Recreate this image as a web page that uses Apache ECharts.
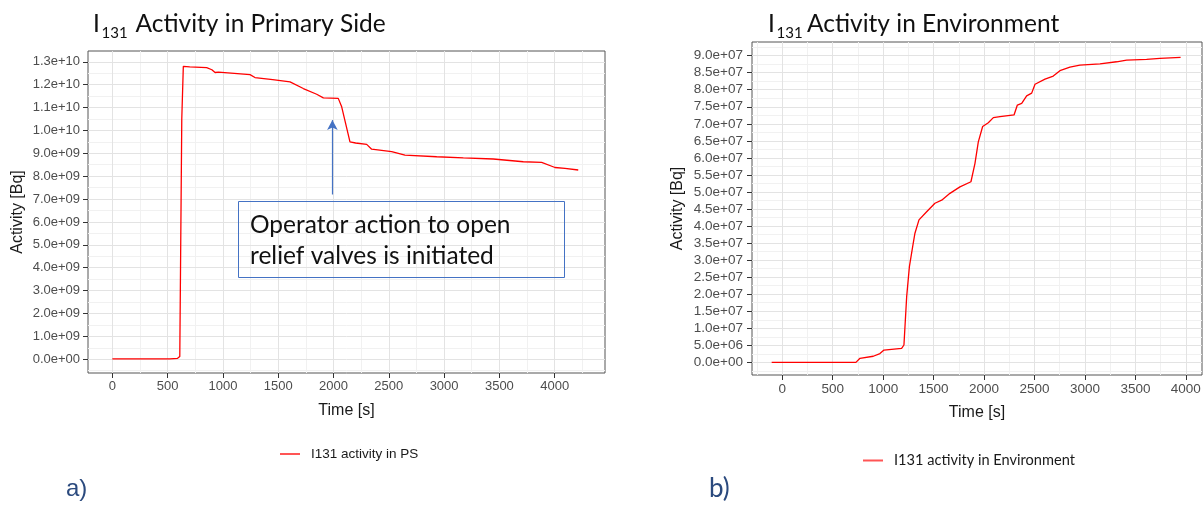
<!DOCTYPE html>
<html>
<head>
<meta charset="utf-8">
<script src="https://cdn.jsdelivr.net/npm/echarts@6/dist/echarts.min.js"></script>
<style>
  html, body { margin: 0; padding: 0; background: #ffffff; }
  #chart { width: 1204px; height: 509px; }
</style>
</head>
<body>
<div id="chart"></div>
<script>
// I-131 activity in the primary side (PS): time [s] and activity [Bq]
const psTime = [0, 300, 520, 590, 610, 628, 642, 700, 853, 900, 929, 960, 1245, 1290, 1450, 1607, 1727, 1848, 1908, 2043, 2074, 2149, 2200, 2300, 2345, 2526, 2646, 2933, 3174, 3445, 3716, 3882, 4003, 4093, 4213];
const psActivity = [0.02e9, 0.02e9, 0.02e9, 0.04e9, 0.12e9, 10.5e9, 12.8e9, 12.78e9, 12.74e9, 12.65e9, 12.53e9, 12.55e9, 12.44e9, 12.31e9, 12.22e9, 12.12e9, 11.83e9, 11.58e9, 11.42e9, 11.40e9, 11.03e9, 9.50e9, 9.45e9, 9.39e9, 9.18e9, 9.07e9, 8.92e9, 8.85e9, 8.80e9, 8.75e9, 8.63e9, 8.60e9, 8.38e9, 8.34e9, 8.27e9];

// I-131 activity released to the environment
const envTime = [-105, 300, 730, 770, 902, 968, 1008, 1183, 1206, 1233, 1260, 1292, 1315, 1355, 1431, 1513, 1580, 1662, 1761, 1870, 1910, 1943, 1986, 2042, 2092, 2158, 2297, 2330, 2373, 2422, 2472, 2505, 2604, 2686, 2752, 2851, 2950, 3149, 3314, 3413, 3611, 3743, 3948];
const envActivity = [0, 0, 0, 0.12e7, 0.18e7, 0.26e7, 0.36e7, 0.41e7, 0.51e7, 1.93e7, 2.81e7, 3.39e7, 3.79e7, 4.18e7, 4.42e7, 4.67e7, 4.76e7, 4.96e7, 5.15e7, 5.30e7, 5.84e7, 6.47e7, 6.92e7, 7.03e7, 7.18e7, 7.21e7, 7.26e7, 7.55e7, 7.60e7, 7.82e7, 7.90e7, 8.16e7, 8.31e7, 8.40e7, 8.56e7, 8.66e7, 8.72e7, 8.76e7, 8.82e7, 8.87e7, 8.89e7, 8.92e7, 8.95e7];

// Major axis breaks
const timeTicks = [0, 500, 1000, 1500, 2000, 2500, 3000, 3500, 4000];
const psTicks = [0, 1e9, 2e9, 3e9, 4e9, 5e9, 6e9, 7e9, 8e9, 9e9, 10e9, 11e9, 12e9, 13e9];
const envTicks = [0, 5e6, 10e6, 15e6, 20e6, 25e6, 30e6, 35e6, 40e6, 45e6, 50e6, 55e6, 60e6, 65e6, 70e6, 75e6, 80e6, 85e6, 90e6];

const seriesNames = ['I131 activity in PS', 'I131 activity in Environment'];

// Axis ranges (data range padded like ggplot's default expansion)
const psTimeRange = [-220, 4455];
const psActRange = [-0.6e9, 13.47e9];
const envTimeRange = [-300, 4160];
const envActRange = [-0.37e7, 9.40e7];

function zip(xs, ys) { return xs.map((x, i) => [x, ys[i]]); }

// Minor breaks halfway between majors, extended one step either side, kept within range
function minorBreaks(major, range) {
  const step = major[1] - major[0];
  const out = [];
  for (let v = major[0] - step / 2; v <= major[major.length - 1] + step; v += step) {
    if (v > range[0] && v < range[1]) out.push(v);
  }
  return out;
}

function sci(v) {
  if (v === 0) return '0.0e+00';
  const e = Math.floor(Math.log10(Math.abs(v)) + 1e-9);
  const m = v / Math.pow(10, e);
  return m.toFixed(1) + 'e' + (e < 0 ? '-' : '+') + String(Math.abs(e)).padStart(2, '0');
}

function plain(v) { return String(v); }

const tickFont = 'Liberation Sans';
const majorGrid = { show: true, lineStyle: { color: '#e3e3e3', width: 1 } };
const minorGrid = { show: true, lineStyle: { color: '#f1f1f1', width: 1 } };

function majorAxis(gridIndex, range, ticks, fmt, labelSize, labelMargin, nameCfg) {
  return Object.assign({
    type: 'value', gridIndex: gridIndex, min: range[0], max: range[1],
    axisLine: { show: false, onZero: false },
    axisTick: { show: true, customValues: ticks, length: 5, lineStyle: { color: '#333333', width: 1 } },
    axisLabel: { show: true, customValues: ticks, formatter: fmt, fontFamily: tickFont, fontSize: labelSize, color: '#4d4d4d', margin: labelMargin, hideOverlap: false },
    splitLine: majorGrid,
    nameLocation: 'middle',
    nameTextStyle: { fontFamily: tickFont, fontSize: 16, color: '#1a1a1a' },
    z: 3
  }, nameCfg);
}

function minorAxis(gridIndex, range, ticks, position) {
  return {
    type: 'value', gridIndex: gridIndex, min: range[0], max: range[1], position: position,
    axisLine: { show: false, onZero: false },
    axisTick: { show: false, customValues: ticks },
    axisLabel: { show: false },
    splitLine: minorGrid,
    z: 2
  };
}

const chart = echarts.init(document.getElementById('chart'), null, { renderer: 'canvas' });

const option = {
  animation: false,
  backgroundColor: '#ffffff',
  grid: [
    { left: 88, top: 51, width: 517, height: 322, show: true, borderColor: '#555555', borderWidth: 1, backgroundColor: '#ffffff' },
    { left: 752, top: 42, width: 450, height: 333, show: true, borderColor: '#555555', borderWidth: 1, backgroundColor: '#ffffff' }
  ],
  xAxis: [
    majorAxis(0, psTimeRange, timeTicks, plain, 13, 7, { name: 'Time [s]', nameGap: 30 }),
    minorAxis(0, psTimeRange, minorBreaks(timeTicks, psTimeRange), 'top'),
    majorAxis(1, envTimeRange, timeTicks, plain, 13.5, 7, { name: 'Time [s]', nameGap: 30 }),
    minorAxis(1, envTimeRange, minorBreaks(timeTicks, envTimeRange), 'top')
  ],
  yAxis: [
    majorAxis(0, psActRange, psTicks, sci, 13, 8, { name: 'Activity [Bq]', nameRotate: 90, nameGap: 62 }),
    minorAxis(0, psActRange, minorBreaks(psTicks, psActRange), 'right'),
    majorAxis(1, envActRange, envTicks, sci, 13.5, 9, { name: 'Activity [Bq]', nameRotate: 90, nameGap: 66 }),
    minorAxis(1, envActRange, minorBreaks(envTicks, envActRange), 'right')
  ],
  legend: [
    {
      data: [seriesNames[0]], left: 280, top: 447, padding: 0, icon: 'rect', itemWidth: 20, itemHeight: 2,
      itemStyle: { color: '#ff5555' },
      textStyle: { fontFamily: tickFont, fontSize: 13.5, color: '#1a1a1a', padding: [0, 0, 0, 6] },
      selectedMode: false
    },
    {
      data: [seriesNames[1]], left: 863, top: 453, padding: 0, icon: 'rect', itemWidth: 20, itemHeight: 2,
      itemStyle: { color: '#ff5555' },
      textStyle: { fontFamily: 'Lato', fontSize: 14.6, color: '#1a1a1a', padding: [0, 0, 0, 6] },
      selectedMode: false
    }
  ],
  series: [
    {
      name: seriesNames[0], type: 'line', xAxisIndex: 0, yAxisIndex: 0,
      data: zip(psTime, psActivity), showSymbol: false, symbol: 'none',
      lineStyle: { color: '#ff0000', width: 1.3 }, itemStyle: { color: '#ff0000' },
      z: 5,
      markLine: {
        silent: true, symbol: ['none', 'arrow'], symbolSize: [8, 10],
        lineStyle: { color: '#4472c4', width: 1.2, type: 'solid' },
        label: { show: false },
        emphasis: { disabled: true },
        data: [[{ coord: [1990, 7.2e9] }, { coord: [1990, 10.45e9] }]]
      }
    },
    {
      name: seriesNames[1], type: 'line', xAxisIndex: 2, yAxisIndex: 2,
      data: zip(envTime, envActivity), showSymbol: false, symbol: 'none',
      lineStyle: { color: '#ff0000', width: 1.3 }, itemStyle: { color: '#ff0000' },
      z: 5
    }
  ],
  graphic: [
    // panel titles with subscript isotope number
    { type: 'text', x: 93, y: 24, style: { text: 'I', font: '24.5px Lato', fill: '#111111', verticalAlign: 'middle' } },
    { type: 'text', x: 101.5, y: 33.5, style: { text: '131', font: '15px Lato', fill: '#111111', verticalAlign: 'middle' } },
    { type: 'text', x: 135.5, y: 24, style: { text: 'Activity in Primary Side', font: '24.5px Lato', fill: '#111111', verticalAlign: 'middle' } },
    { type: 'text', x: 768, y: 24, style: { text: 'I', font: '24.5px Lato', fill: '#111111', verticalAlign: 'middle' } },
    { type: 'text', x: 776.5, y: 33.5, style: { text: '131', font: '15px Lato', fill: '#111111', verticalAlign: 'middle' } },
    { type: 'text', x: 807, y: 24, style: { text: 'Activity in Environment', font: '24.5px Lato', fill: '#111111', verticalAlign: 'middle' } },
    // callout box for the operator action
    { type: 'rect', shape: { x: 238.5, y: 201.5, width: 326, height: 76 }, style: { fill: 'rgba(0,0,0,0)', stroke: '#4472c4', lineWidth: 1 }, z: 10 },
    { type: 'text', x: 250, y: 210, style: { text: 'Operator action to open\nrelief valves is initiated', font: '24.5px Lato', lineHeight: 30.5, fill: '#111111', verticalAlign: 'top' }, z: 10 },
    // panel tags
    { type: 'text', x: 66, y: 489, style: { text: 'a)', font: '24px Liberation Sans', fill: '#2b4a7e', verticalAlign: 'middle' } },
    { type: 'text', x: 709, y: 489, style: { text: 'b)', font: '26px Lato', fill: '#2b4a7e', verticalAlign: 'middle' } }
  ]
};

chart.setOption(option);
</script>
</body>
</html>
